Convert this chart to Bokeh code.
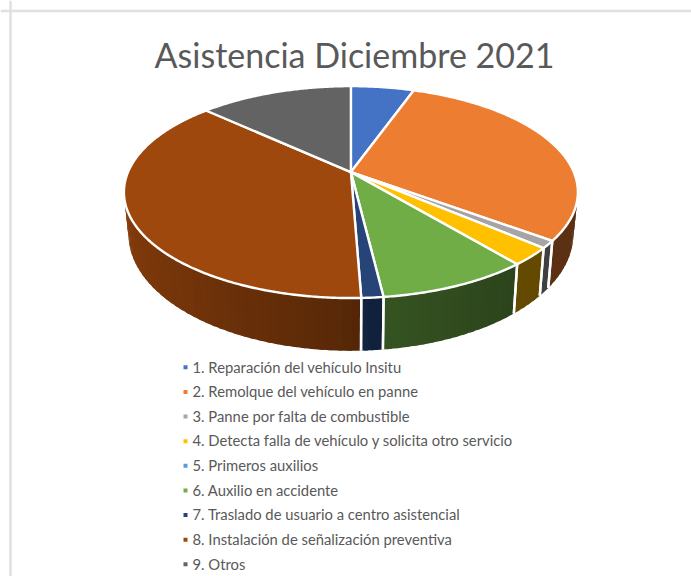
import numpy as np
from bokeh.plotting import figure
from bokeh.models import Range1d, Span
from bokeh.core.properties import value
from bokeh.embed import file_html
from bokeh.resources import INLINE

# ---- data ----
title_text = "Asistencia Diciembre 2021"
categories = [
    "1. Reparación del vehículo Insitu",
    "2. Remolque del vehículo en panne",
    "3. Panne por falta de combustible",
    "4. Detecta falla de vehículo y solicita otro servicio",
    "5. Primeros auxilios",
    "6. Auxilio en accidente",
    "7. Traslado de usuario a centro asistencial",
    "8. Instalación de señalización preventiva",
    "9. Otros",
]
shares = [5.4, 29.8, 1.1, 2.7, 0.0, 9.1, 1.3, 37.5, 13.1]
colors = ["#4472C4", "#ED7D31", "#A5A5A5", "#FFC000", "#5B9BD5",
          "#70AD47", "#264478", "#9E480E", "#636363"]

# ---- page geometry (data space == reference pixels) ----
W, H = 691, 576
CX, CY = 350.4, 171.6       # apex of the pie
A, B, K = 222.9, 102.2, 0.1887   # perspective of the top disc
DEPTH, SQUEEZE, XSHRINK = 52.7, 0.10, 0.98
FRONT_Y = 298.0
WALL_FROM, WALL_TO = 60.0, 300.0

def top_xy(theta_deg):
    t = np.radians(np.asarray(theta_deg, dtype=float))
    X, Y = np.sin(t), np.cos(t)
    w = 1 + K * Y
    return CX + A * X / w, CY - B * Y / w

def bottom_xy(theta_deg):
    x, y = top_xy(theta_deg)
    return CX + (x - CX) * XSHRINK, y + DEPTH - SQUEEZE * (FRONT_Y - y)

def shade(theta_deg):
    return np.interp(theta_deg, [60, 140, 175, 182, 220, 265, 300],
                     [.39, .39, .49, .57, .73, .88, .90])

def scaled(hex_color, f):
    r, g, b = (int(hex_color[i:i + 2], 16) for i in (1, 3, 5))
    return "#%02x%02x%02x" % (int(r * f), int(g * f), int(b * f))

p = figure(width=W, height=H, x_range=Range1d(0, W), y_range=Range1d(H, 0),
           x_axis_type=None, y_axis_type=None, toolbar_location=None,
           output_backend="svg", min_border=0, outline_line_color=None,
           background_fill_color="white", border_fill_color="white")

p.add_layout(Span(location=10.5, dimension="width", line_color="#E0E0E0", line_width=2.5))
p.add_layout(Span(location=10, dimension="height", line_color="#E0E0E0", line_width=2.5))

edges = np.concatenate([[0], np.cumsum(shares)]) / np.sum(shares) * 360.0

# walls, as thin overlapping strips so that the shading runs along the rim
sx, sy, sc = [], [], []
sep_x0, sep_y0, sep_x1, sep_y1 = [], [], [], []
for i, col in enumerate(colors):
    a0, a1 = max(edges[i], WALL_FROM), min(edges[i + 1], WALL_TO)
    if a1 <= a0:
        continue
    n = max(1, int(np.ceil((a1 - a0) / 2.0)))
    ts = np.linspace(a0, a1, n + 1)
    for j in range(n):
        seg = np.linspace(ts[j], min(ts[j + 1] + 1.0, a1), 5)
        tx, ty = top_xy(seg)
        bx, by = bottom_xy(seg)
        sx.append(list(tx) + list(bx[::-1]))
        sy.append(list(ty) + list(by[::-1]))
        sc.append(scaled(col, shade((ts[j] + ts[j + 1]) / 2)))
    for e in (a0, a1):
        if WALL_FROM < e < WALL_TO:
            tx, ty = top_xy(e)
            bx, by = bottom_xy(e)
            sep_x0.append(float(tx)); sep_y0.append(float(ty))
            sep_x1.append(float(bx)); sep_y1.append(float(by))

p.patches(sx, sy, fill_color=sc, line_color=None)
p.segment(sep_x0, sep_y0, sep_x1, sep_y1, line_color="white", line_width=2.4)

# top of the pie
for i, col in enumerate(colors):
    if shares[i] <= 0:
        continue
    n = max(4, int((edges[i + 1] - edges[i]) * 2))
    tx, ty = top_xy(np.linspace(edges[i], edges[i + 1], n))
    p.patch([CX] + list(tx), [CY] + list(ty), fill_color=col,
            line_color="white", line_width=2.4, line_join="round")

# title
p.text([354], [54], text=[title_text], text_font=value("Lato"), text_font_size="34px",
       text_color="#595959", text_align="center", text_baseline="middle")

# legend
LEG_Y0, LEG_STEP = 366.0, 24.63
rows = LEG_Y0 + LEG_STEP * np.arange(len(categories))
p.scatter([185] * len(categories), rows + 0.8, marker="square", size=4,
          fill_color=colors, line_color=None)
p.text([192] * len(categories), rows, text=categories, text_font=value("Lato"),
       text_font_size="14.8px", text_color="#595959", text_align="left",
       text_baseline="middle")

open("out.html", "w").write(file_html(p, INLINE))
